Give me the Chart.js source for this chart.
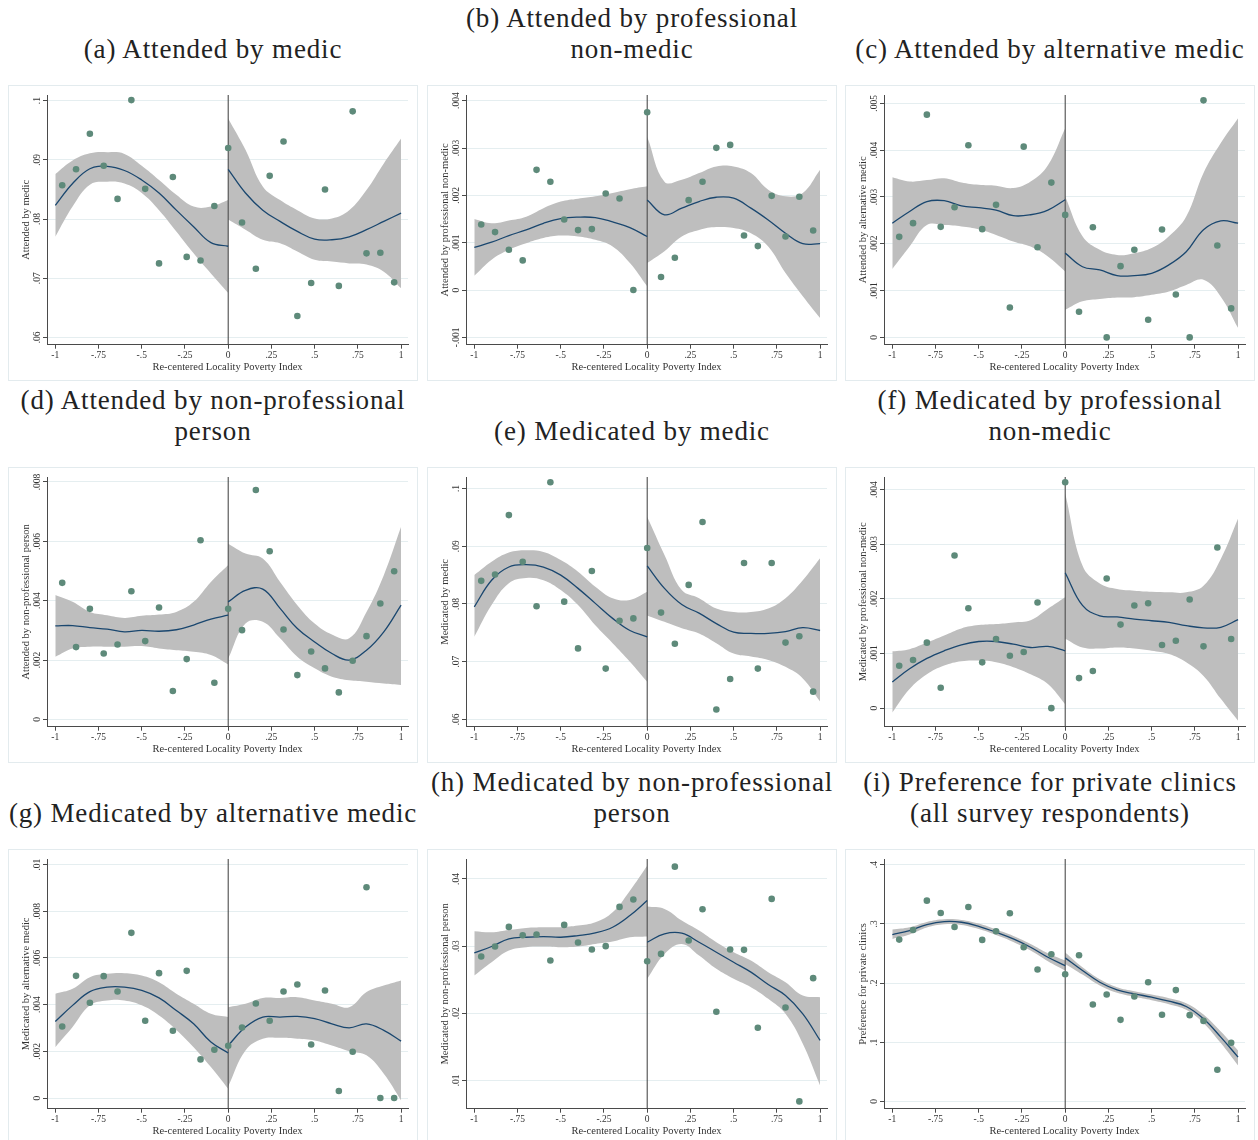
<!DOCTYPE html>
<html>
<head>
<meta charset="utf-8">
<script src="https://cdn.jsdelivr.net/npm/chart.js@4.4.0/dist/chart.umd.min.js"></script>
<style>
  body { margin: 0; background: #fff; }
  #page { position: relative; width: 1258px; height: 1140px; overflow: hidden; background: #fff; }
  .ttl {
    position: absolute; width: 420px; height: 62px;
    display: flex; flex-direction: column; justify-content: flex-end; align-items: center;
    font-family: "Liberation Serif", serif; font-size: 27px; letter-spacing: 0.85px;
    line-height: 31px; color: #222; white-space: nowrap;
  }
  .box { position: absolute; width: 408px; height: 294px; border: 1px solid #e3ebee; }
  .box canvas { display: block; }
</style>
</head>
<body>
<div id="page"></div>
<script>
// bins of the running variable (same for every panel)
const xBins = [-0.96, -0.88, -0.80, -0.72, -0.64, -0.56, -0.48, -0.40, -0.32, -0.24, -0.16, -0.08, 0,
               0.08, 0.16, 0.24, 0.32, 0.40, 0.48, 0.56, 0.64, 0.72, 0.80, 0.88, 0.96];
// grid where the local fit and its CI are evaluated
const leftGrid = [-1, -0.9, -0.8, -0.7, -0.6, -0.5, -0.4, -0.3, -0.2, -0.1, 0];
const rightGrid = [0, 0.1, 0.2, 0.3, 0.4, 0.5, 0.6, 0.7, 0.8, 0.9, 1];
const xTicks = [-1, -0.75, -0.5, -0.25, 0, 0.25, 0.5, 0.75, 1];
const cutoff = 0;

// (a) Attended by medic
const aTicks = [0.06, 0.07, 0.08, 0.09, 0.1];
const aDots = [.0857, .0884, .0944, .0890, .0834, .1001, .0851, .0725, .0871, .0736, .0730, .0822, .0920,
               .0794, .0716, .0873, .0931, .0636, .0692, .0850, .0687, .0982, .0742, .0743, .0693];
const aFitL = [.0823, .0860, .0885, .0889, .0882, .0866, .0844, .0815, .0787, .0760, .0754];
const aHiL = [.0876, .0899, .0911, .0913, .0910, .0890, .0866, .0841, .0821, .0821, .0832];
const aLoL = [.0770, .0821, .0858, .0863, .0860, .0844, .0815, .0779, .0742, .0708, .0675];
const aFitR = [.0884, .0844, .0815, .0796, .0779, .0766, .0765, .0770, .0782, .0796, .0810];
const aHiR = [.0970, .0917, .0855, .0832, .0815, .0801, .0801, .0815, .0849, .0894, .0936];
const aLoR = [.0799, .0782, .0765, .0759, .0745, .0731, .0728, .0725, .0723, .0711, .0683];

// (b) Attended by professional non-medic
const bTicks = [-0.001, 0, 0.001, 0.002, 0.003, 0.004];
const bDots = [.001385, .001224, .000851, .000626, .002539, .002286, .001491, .001266, .001287, .002039, .001934, 0, .003755,
               .000274, .000682, .001899, .002286, .003003, .003066, .001153, .000928, .00199, .001132, .001969, .001259];
const bFitL = [.0009, .00101, .00115, .00127, .00141, .00151, .00154, .00153, .00144, .00132, .00113];
const bHiL = [.0015, .00141, .00147, .00155, .00173, .00187, .00193, .00198, .00205, .00213, .00219];
const bLoL = [.0003, .00064, .00085, .00099, .0011, .00115, .00113, .00106, .00092, .00057, .00008];
const bFitR = [.0019, .00159, .00173, .00187, .00196, .00194, .00173, .00148, .0012, .00098, .00098];
const bHiR = [.00324, .00229, .00233, .00247, .00261, .00261, .00247, .00212, .00198, .00205, .00254];
const bLoR = [.00057, .00082, .00113, .00127, .00133, .00131, .0012, .00092, .00036, -.00013, -.00059];

// (c) Attended by alternative medic
const cTicks = [0, 0.001, 0.002, 0.003, 0.004, 0.005];
const cDots = [.002148, .00244, .004758, .002361, .002781, .004104, .002312, .002831, .00064, .004075, .001927, .003307, .002617,
               .000548, .002354, 0, .001522, .001871, .000377, .002304, .000917, 0, .005064, .001963, .000619];
const cFitL = [.00244, .00269, .0029, .00292, .00281, .00277, .00272, .0026, .00262, .00272, .00294];
const cHiL = [.00342, .00333, .00336, .0034, .00331, .00326, .00324, .00319, .00333, .00368, .00447];
const cLoL = [.00146, .00194, .0024, .0024, .00237, .00231, .00219, .00205, .00194, .00173, .00141];
const cFitR = [.0018, .00151, .00144, .00132, .00132, .00137, .00155, .00183, .0023, .00249, .00244];
const cHiR = [.00301, .00216, .00187, .00176, .0018, .00191, .00216, .00258, .00351, .00415, .00468];
const cLoR = [.00059, .00077, .00082, .00085, .00086, .00091, .00098, .00112, .00123, .00087, .0002];

// (d) Attended by non-professional person
const dTicks = [0, 0.002, 0.004, 0.006, 0.008];
const dDots = [.0046, .002435, .003725, .002222, .002525, .00432, .002637, .00377, .000954, .002031, .006036, .001234, .003725,
               .003007, .007731, .005666, .003029, .001492, .002289, .001717, .000909, .001975, .002805, .003905, .004993];
const dFitL = [.00315, .00316, .00309, .00304, .00295, .003, .00297, .00302, .00318, .00338, .00351];
const dHiL = [.00419, .00396, .00362, .00351, .00342, .00349, .00353, .00362, .00396, .00463, .0052];
const dLoL = [.00211, .00239, .00245, .00245, .00245, .00247, .00239, .00233, .00228, .00217, .00185];
const dFitR = [.00396, .00435, .00439, .00374, .00306, .00261, .00222, .002, .00233, .00295, .00385];
const dHiR = [.00592, .00559, .00542, .00463, .00385, .00323, .00286, .00273, .00362, .00486, .00649];
const dLoR = [.00205, .00323, .00329, .00273, .00211, .00172, .00144, .00132, .00127, .00121, .00116];

// (e) Medicated by medic
const eTicks = [0.06, 0.07, 0.08, 0.09, 0.1];
const eDots = [.0840, .0851, .0954, .0873, .0796, .1011, .0804, .0723, .0857, .0688, .0771, .0775, .0897,
               .0785, .0731, .0833, .0942, .0617, .0670, .0871, .0688, .0871, .0733, .0744, .0648];
const eFitL = [.0795, .0841, .0864, .0868, .0864, .0850, .0827, .0801, .0775, .0754, .0743];
const eHiL = [.0850, .0873, .0889, .0893, .0890, .0876, .0856, .0830, .0810, .0807, .0821];
const eLoL = [.0743, .0798, .0836, .0845, .0841, .0824, .0798, .0763, .0732, .0700, .0665];
const eFitR = [.0866, .0827, .0799, .0784, .0766, .0751, .0749, .0749, .0752, .0759, .0754];
const eHiR = [.0951, .0885, .0824, .0810, .0792, .0786, .0786, .0792, .0810, .0841, .0879];
const eLoR = [.0780, .0769, .0758, .0749, .0732, .0714, .0709, .0703, .0691, .0671, .0631];

// (f) Medicated by professional non-medic
const fTicks = [0, 0.001, 0.002, 0.003, 0.004];
const fDots = [.000777, .000881, .001199, .000373, .002795, .001829, .000838, .001266, .00096, .001028, .001933, 0, .004135,
               .00055, .000679, .002373, .001529, .001878, .00192, .001156, .001235, .001988, .001131, .002942, .001266];
const fFitL = [.00048, .00072, .00091, .00105, .00116, .00122, .00122, .00117, .00111, .00113, .00105];
const fHiL = [.00104, .00108, .0012, .00133, .00146, .00152, .00154, .00157, .00161, .00182, .00203];
const fLoL = [-.00008, .00035, .00062, .00078, .00086, .00087, .00084, .00075, .00062, .00044, .00007];
const fFitR = [.00248, .00188, .00169, .00167, .00163, .0016, .00157, .00151, .00147, .00148, .00162];
const fHiR = [.00393, .00261, .00228, .00218, .00215, .00213, .00212, .00212, .00224, .00273, .00347];
const fLoR = [.00127, .00111, .00109, .00111, .00109, .00105, .00099, .00084, .00059, .00017, -.00023];

// (g) Medicated by alternative medic
const gTicks = [0, 0.002, 0.004, 0.006, 0.008, 0.01];
const gDots = [.003067, .005235, .00408, .005221, .004565, .007076, .00331, .00535, .002882, .005449, .001655, .002068, .00224,
               .003024, .004051, .00331, .004565, .004864, .002297, .004608, .0003, .001983, .00903, 0, 0];
const gFitL = [.00328, .00397, .00456, .00475, .00475, .00461, .00429, .00375, .00318, .0024, .00193];
const gHiL = [.00447, .00468, .00518, .00532, .00535, .00525, .00496, .00447, .00404, .00361, .00347];
const gLoL = [.00218, .00304, .00397, .00418, .00418, .00397, .00354, .00292, .00218, .00133, .0004];
const gFitR = [.00225, .00304, .00347, .00347, .0035, .0034, .00318, .00301, .00318, .0029, .00244];
const gHiR = [.00389, .00404, .00429, .00429, .00432, .00418, .00404, .00389, .00454, .00482, .00504];
const gLoR = [.0005, .00204, .00254, .00258, .00254, .00247, .00225, .00201, .00183, .00104, -.0001];

// (h) Medicated by non-professional person
const hTicks = [0.01, 0.02, 0.03, 0.04];
const hDots = [.02845, .02994, .03286, .03162, .03172, .02785, .03316, .03053, .02949, .02999, .03584, .03693, .02775,
               .02884, .04183, .03083, .03549, .02022, .02949, .02944, .01784, .03703, .02086, .00688, .02523];
const hFitL = [.029, .02994, .03108, .03132, .03142, .03132, .03157, .03197, .03281, .03455, .03678];
const hHiL = [.03222, .03207, .03241, .03271, .03281, .03281, .03306, .03355, .03504, .03826, .04198];
const hLoL = [.02562, .0276, .02934, .02984, .02994, .02984, .02994, .03033, .03068, .03132, .03142];
const hFitR = [.03058, .03182, .03192, .03058, .02909, .0276, .02612, .02428, .02265, .01992, .01596];
const hHiR = [.03588, .03554, .0338, .03232, .03058, .02909, .02785, .02612, .02463, .02265, .0224];
const hLoR = [.02513, .02884, .03033, .0286, .02661, .02513, .02389, .02215, .01992, .01546, .00926];

// (i) Preference for private clinics
const iTicks = [0, 0.1, 0.2, 0.3, 0.4];
const iDots = [.2734, .2897, .3392, .3184, .2948, .3286, .2729, .2875, .3179, .2605, .2228, .2487, .2149,
               .2470, .1637, .1806, .1378, .1772, .2014, .1463, .1880, .1457, .1360, .0534, .0990];
const iFitL = [.2819, .2886, .2987, .3038, .3027, .2959, .2858, .2745, .2605, .2436, .2295];
const iHiL = [.2903, .2942, .3032, .3077, .3066, .3004, .2903, .2796, .2661, .2504, .2380];
const iLoL = [.2745, .2819, .2937, .2993, .2982, .2914, .2813, .2695, .2549, .2369, .2211];
const iFitR = [.2425, .2211, .2014, .1885, .1817, .1761, .1693, .1603, .1395, .1086, .0748];
const iHiR = [.2515, .2267, .2065, .1930, .1862, .1806, .1744, .1660, .1468, .1181, .0861];
const iLoR = [.2323, .2143, .1958, .1834, .1767, .1710, .1643, .1547, .1322, .0985, .0608];

const panels = [
  { title: ['(a) Attended by medic'], yTitle: 'Attended by medic', ticks: aTicks, yMin: .05876, yMax: .10096,
    dots: aDots, fitL: aFitL, hiL: aHiL, loL: aLoL, fitR: aFitR, hiR: aHiR, loR: aLoR },
  { title: ['(b) Attended by professional', 'non-medic'], yTitle: 'Attended by professional non-medic', ticks: bTicks, yMin: -.001155, yMax: .00412,
    dots: bDots, fitL: bFitL, hiL: bHiL, loL: bLoL, fitR: bFitR, hiR: bHiR, loR: bLoR },
  { title: ['(c) Attended by alternative medic'], yTitle: 'Attended by alternative medic', ticks: cTicks, yMin: -.000156, yMax: .005178,
    dots: cDots, fitL: cFitL, hiL: cHiL, loL: cLoL, fitR: cFitR, hiR: cHiR, loR: cLoR },
  { title: ['(d) Attended by non-professional', 'person'], yTitle: 'Attended by non-professional person', ticks: dTicks, yMin: -.000247, yMax: .008168,
    dots: dDots, fitL: dFitL, hiL: dHiL, loL: dLoL, fitR: dFitR, hiR: dHiR, loR: dLoR },
  { title: ['(e) Medicated by medic'], yTitle: 'Medicated by medic', ticks: eTicks, yMin: .05873, yMax: .102,
    dots: eDots, fitL: eFitL, hiL: eHiL, loL: eLoL, fitR: eFitR, hiR: eHiR, loR: eLoR },
  { title: ['(f) Medicated by professional', 'non-medic'], yTitle: 'Medicated by professional non-medic', ticks: fTicks, yMin: -.00034, yMax: .004232,
    dots: fDots, fitL: fFitL, hiL: fHiL, loL: fLoL, fitR: fFitR, hiR: fHiR, loR: fLoR },
  { title: ['(g) Medicated by alternative medic'], yTitle: 'Medicated by alternative medic', ticks: gTicks, yMin: -.000456, yMax: .01024,
    dots: gDots, fitL: gFitL, hiL: gHiL, loL: gLoL, fitR: gFitR, hiR: gHiR, loR: gLoR },
  { title: ['(h) Medicated by non-professional', 'person'], yTitle: 'Medicated by non-professional person', ticks: hTicks, yMin: .00579, yMax: .04297,
    dots: hDots, fitL: hFitL, hiL: hHiL, loL: hLoL, fitR: hFitR, hiR: hHiR, loR: hLoR },
  { title: ['(i) Preference for private clinics', '(all survey respondents)'], yTitle: 'Preference for private clinics', ticks: iTicks, yMin: -.0124, yMax: .4096,
    dots: iDots, fitL: iFitL, hiL: iHiL, loL: iLoL, fitR: iFitR, hiR: iHiR, loR: iLoR }
];

const colLeft = [8, 427, 845];
const rowTop = [85, 467, 849];

const dotColor = '#5e8a7a';
const fitColor = '#1a476f';
const bandColor = '#bebebe';
const axisColor = '#4a4a4a';
const gridColor = '#e5eef0';
const tickFont = { family: '"Liberation Serif", serif', size: 9.5 };
const titleFont = { family: '"Liberation Serif", serif', size: 10.5 };

// Stata style labels: .25 instead of 0.25
function stataLabel(v) {
    if (Math.abs(v) < 1e-12) return '0';
    let s = String(parseFloat(v.toFixed(6)));
    return s.replace(/^(-?)0\./, '$1.');
}

const measureCtx = document.createElement('canvas').getContext('2d');
measureCtx.font = '9.5px "Liberation Serif"';

function toPoints(xs, ys) {
    return xs.map((x, i) => ({ x: x, y: ys[i] }));
}

function drawPanel(p, idx) {
    const col = idx % 3, row = Math.floor(idx / 3);
    const page = document.getElementById('page');

    const t = document.createElement('div');
    t.className = 'ttl';
    t.style.left = (colLeft[col] + 205 - 210) + 'px';
    t.style.top = (rowTop[row] - 82) + 'px';
    p.title.forEach(line => {
        const d = document.createElement('div');
        d.textContent = line;
        t.appendChild(d);
    });
    page.appendChild(t);

    const box = document.createElement('div');
    box.className = 'box';
    box.style.left = colLeft[col] + 'px';
    box.style.top = rowTop[row] + 'px';
    const cv = document.createElement('canvas');
    cv.width = 408;
    cv.height = 294;
    box.appendChild(cv);
    page.appendChild(box);

    // keep rotated y labels at a fixed distance from the axis
    const widest = Math.max(...p.ticks.map(v => measureCtx.measureText(stataLabel(v)).width));
    const yPad = 5.7 - widest / 2;

    const band = (data, fill) => ({
        data: data, showLine: true, fill: fill, tension: 0.4,
        borderWidth: 0, pointRadius: 0, backgroundColor: bandColor, borderColor: bandColor
    });
    const fit = data => ({
        data: data, showLine: true, fill: false, tension: 0.4,
        borderWidth: 1.3, pointRadius: 0, borderColor: fitColor
    });

    new Chart(cv.getContext('2d'), {
        type: 'scatter',
        data: {
            datasets: [
                { data: toPoints(xBins, p.dots), pointRadius: 3.3, pointBackgroundColor: dotColor, pointBorderWidth: 0, backgroundColor: dotColor },
                fit(toPoints(leftGrid, p.fitL)),
                fit(toPoints(rightGrid, p.fitR)),
                { data: [{ x: cutoff, y: p.yMin }, { x: cutoff, y: p.yMax }], showLine: true, pointRadius: 0, borderWidth: 1, borderColor: '#3a3a3a' },
                band(toPoints(leftGrid, p.hiL), '+1'),
                band(toPoints(leftGrid, p.loL), false),
                band(toPoints(rightGrid, p.hiR), '+1'),
                band(toPoints(rightGrid, p.loR), false)
            ]
        },
        options: {
            responsive: false,
            animation: false,
            events: [],
            layout: { padding: { top: 9, right: 9, left: 0, bottom: 0 } },
            plugins: {
                legend: { display: false },
                tooltip: { enabled: false }
            },
            scales: {
                x: {
                    type: 'linear',
                    min: -1.048,
                    max: 1.04,
                    afterBuildTicks: axis => { axis.ticks = xTicks.map(v => ({ value: v })); },
                    afterFit: axis => { axis.height = 35.3; },
                    grid: { drawOnChartArea: false, drawTicks: true, tickLength: 4, tickColor: axisColor, tickWidth: 1 },
                    border: { display: true, color: axisColor, width: 1 },
                    ticks: { callback: v => stataLabel(v), font: tickFont, color: '#333', padding: 1, maxRotation: 0, autoSkip: false },
                    title: { display: true, text: 'Re-centered Locality Poverty Index', font: titleFont, color: '#333', padding: { top: 0, bottom: 6.7 } }
                },
                y: {
                    type: 'linear',
                    min: p.yMin,
                    max: p.yMax,
                    afterBuildTicks: axis => { axis.ticks = p.ticks.map(v => ({ value: v })); },
                    afterFit: axis => { axis.width = 38; },
                    grid: { drawOnChartArea: true, color: gridColor, lineWidth: 1, drawTicks: true, tickLength: 4, tickColor: axisColor, tickWidth: 1 },
                    border: { display: true, color: axisColor, width: 1 },
                    ticks: { callback: v => stataLabel(v), font: tickFont, color: '#333', padding: yPad, crossAlign: 'center', minRotation: 90, maxRotation: 90, autoSkip: false },
                    title: { display: true, text: p.yTitle, font: titleFont, color: '#333', padding: { top: 10.7, bottom: 0 } }
                }
            }
        }
    });
}

document.addEventListener('DOMContentLoaded', function () {
    panels.forEach((p, i) => drawPanel(p, i));
});
</script>
</body>
</html>
